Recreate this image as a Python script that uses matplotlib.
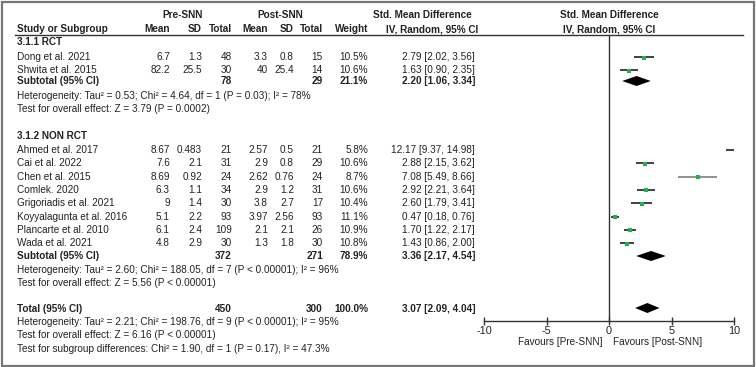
import matplotlib
matplotlib.use("Agg")
import matplotlib.pyplot as plt
from matplotlib.patches import Rectangle

plt.rcParams['font.family'] = ['Liberation Sans', 'DejaVu Sans']

# ---------------- data ----------------
rct_names = ["Dong et al. 2021", "Shwita et al. 2015"]
rct_pre_mean = ["6.7", "82.2"]
rct_pre_sd = ["1.3", "25.5"]
rct_pre_n = ["48", "30"]
rct_post_mean = ["3.3", "40"]
rct_post_sd = ["0.8", "25.4"]
rct_post_n = ["15", "14"]
rct_weight = ["10.5%", "10.6%"]
rct_smd = [2.79, 1.63]
rct_lo = [2.02, 0.90]
rct_hi = [3.56, 2.35]

non_names = ["Ahmed et al. 2017", "Cai et al. 2022", "Chen et al. 2015", "Comlek. 2020",
             "Grigoriadis et al. 2021", "Koyyalagunta et al. 2016", "Plancarte et al. 2010",
             "Wada et al. 2021"]
non_pre_mean = ["8.67", "7.6", "8.69", "6.3", "9", "5.1", "6.1", "4.8"]
non_pre_sd = ["0.483", "2.1", "0.92", "1.1", "1.4", "2.2", "2.4", "2.9"]
non_pre_n = ["21", "31", "24", "34", "30", "93", "109", "30"]
non_post_mean = ["2.57", "2.9", "2.62", "2.9", "3.8", "3.97", "2.1", "1.3"]
non_post_sd = ["0.5", "0.8", "0.76", "1.2", "2.7", "2.56", "2.1", "1.8"]
non_post_n = ["21", "29", "24", "31", "17", "93", "26", "30"]
non_weight = ["5.8%", "10.6%", "8.7%", "10.6%", "10.4%", "11.1%", "10.9%", "10.8%"]
non_smd = [12.17, 2.88, 7.08, 2.92, 2.60, 0.47, 1.70, 1.43]
non_lo = [9.37, 2.15, 5.49, 2.21, 1.79, 0.18, 1.22, 0.86]
non_hi = [14.98, 3.62, 8.66, 3.64, 3.41, 0.76, 2.17, 2.00]

sub_labels = ["Subtotal (95% CI)", "Subtotal (95% CI)"]
sub_pre_n = ["78", "372"]
sub_post_n = ["29", "271"]
sub_weight = ["21.1%", "78.9%"]
sub_smd = [2.20, 3.36]
sub_lo = [1.06, 2.17]
sub_hi = [3.34, 4.54]

tot_pre_n = "450"
tot_post_n = "300"
tot_weight = "100.0%"
tot_smd = 3.07
tot_lo = 2.09
tot_hi = 4.04

rct_stats = ["Heterogeneity: Tau\u00b2 = 0.53; Chi\u00b2 = 4.64, df = 1 (P = 0.03); I\u00b2 = 78%",
             "Test for overall effect: Z = 3.79 (P = 0.0002)"]
non_stats = ["Heterogeneity: Tau\u00b2 = 2.60; Chi\u00b2 = 188.05, df = 7 (P < 0.00001); I\u00b2 = 96%",
             "Test for overall effect: Z = 5.56 (P < 0.00001)"]
tot_stats = ["Heterogeneity: Tau\u00b2 = 2.21; Chi\u00b2 = 198.76, df = 9 (P < 0.00001); I\u00b2 = 95%",
             "Test for overall effect: Z = 6.16 (P < 0.00001)",
             "Test for subgroup differences: Chi\u00b2 = 1.90, df = 1 (P = 0.17), I\u00b2 = 47.3%"]

xticks = [-10, -5, 0, 5, 10]

# ---------------- layout ----------------
W, H = 756, 367
FS = 7.2
TC = '#222222'
fig = plt.figure(figsize=(W / 100, H / 100), dpi=100)
ax = fig.add_axes([0, 0, 1, 1])
ax.set_xlim(0, W)
ax.set_ylim(H, 0)
ax.axis('off')

X0, X1 = 484, 734
fax = fig.add_axes([X0 / W, 0, (X1 - X0) / W, 1])
XMIN, XMAX = -10, 10
fax.set_xlim(XMIN, XMAX)
fax.set_ylim(H, 0)
fax.patch.set_alpha(0)
for s in ['left', 'right', 'top']:
    fax.spines[s].set_visible(False)
AXIS_Y = 321
fax.spines['bottom'].set_position(('data', AXIS_Y))
fax.spines['bottom'].set_color('#333333')
fax.spines['bottom'].set_linewidth(1.0)
fax.set_yticks([])
fax.set_xticks(xticks)
fax.set_xticklabels([str(t) for t in xticks])
fax.tick_params(axis='x', direction='inout', length=6, width=1.0, color='#333333',
                labelsize=FS + 0.6, labelcolor=TC, pad=0.5)

ax.add_patch(Rectangle((2, 2), 752, 364, fill=False, edgecolor='#777777', lw=1.6))

# column positions (right edges)
cL = 17
cPM, cPS, cPN = 170, 202, 232
cQM, cQS, cQN = 268, 294, 323
cW = 368
cE = 475


def txt(x, y, s, ha='left', bold=False):
    ax.text(x, y, s, ha=ha, va='center', fontsize=FS, color=TC,
            fontweight='bold' if bold else 'normal')


# headers
txt(183, 15, "Pre-SNN", 'center', True)
txt(280, 15, "Post-SNN", 'center', True)
txt(422, 15, "Std. Mean Difference", 'center', True)
txt(432, 29, "IV, Random, 95% CI", 'center', True)
txt(609, 15, "Std. Mean Difference", 'center', True)
txt(609, 29, "IV, Random, 95% CI", 'center', True)
txt(cL, 29, "Study or Subgroup", bold=True)
for x, s in [(cPM, "Mean"), (cPS, "SD"), (cPN, "Total"), (cQM, "Mean"),
             (cQS, "SD"), (cQN, "Total"), (cW, "Weight")]:
    txt(x, 29, s, 'right', True)
ax.plot([15, 743], [35, 35], color='#333333', lw=1.0)

# zero line
fax.plot([0, 0], [35, AXIS_Y], color='#333333', lw=1.0)

STEP = 13.3


def study_rows(y0, names, pm, ps, pn, qm, qs, qn, w, smd, lo, hi, colors=None):
    for i in range(len(names)):
        y = y0 + i * STEP
        txt(cL, y, names[i])
        txt(cPM, y, pm[i], 'right')
        txt(cPS, y, ps[i], 'right')
        txt(cPN, y, pn[i], 'right')
        txt(cQM, y, qm[i], 'right')
        txt(cQS, y, qs[i], 'right')
        txt(cQN, y, qn[i], 'right')
        txt(cW, y, w[i], 'right')
        txt(cE, y, f"{smd[i]:.2f} [{lo[i]:.2f}, {hi[i]:.2f}]", 'right')
        col = colors[i] if colors else '#333333'
        if lo[i] > XMAX:
            # off-scale study: arrow pointing right at the axis end
            fax.plot([XMAX - 0.8, XMAX - 0.3], [y - 2, y - 2], color='#111111', lw=1.2,
                     solid_capstyle='butt', clip_on=False)
            fax.plot(XMAX - 0.2, y - 2, '>', color='#111111', markersize=5.5, mew=0,
                     clip_on=False)
        else:
            fax.plot([lo[i], hi[i]], [y, y], color=col, lw=1.3, solid_capstyle='butt')
            fax.plot(smd[i], y + 0.5, 's', color='#1fb24b', markersize=3.0, mew=0)


def diamond(y, m, lo, hi):
    fax.fill([lo, m, hi, m], [y, y - 5, y, y + 5], color='black', lw=0)


# RCT subgroup
txt(cL, 42, "3.1.1 RCT", bold=True)
study_rows(57, rct_names, rct_pre_mean, rct_pre_sd, rct_pre_n, rct_post_mean,
           rct_post_sd, rct_post_n, rct_weight, rct_smd, rct_lo, rct_hi)
y = 81
txt(cL, y, sub_labels[0], bold=True)
txt(cPN, y, sub_pre_n[0], 'right', True)
txt(cQN, y, sub_post_n[0], 'right', True)
txt(cW, y, sub_weight[0], 'right', True)
txt(cE, y, f"{sub_smd[0]:.2f} [{sub_lo[0]:.2f}, {sub_hi[0]:.2f}]", 'right', True)
diamond(y, sub_smd[0], sub_lo[0], sub_hi[0])
txt(cL, 96, rct_stats[0])
txt(cL, 109.5, rct_stats[1])

# NON RCT subgroup
txt(cL, 136, "3.1.2 NON RCT", bold=True)
non_colors = ['#333333', '#333333', '#888888', '#333333', '#333333', '#333333', '#333333', '#333333']
study_rows(150, non_names, non_pre_mean, non_pre_sd, non_pre_n, non_post_mean,
           non_post_sd, non_post_n, non_weight, non_smd, non_lo, non_hi, non_colors)
y = 256
txt(cL, y, sub_labels[1], bold=True)
txt(cPN, y, sub_pre_n[1], 'right', True)
txt(cQN, y, sub_post_n[1], 'right', True)
txt(cW, y, sub_weight[1], 'right', True)
txt(cE, y, f"{sub_smd[1]:.2f} [{sub_lo[1]:.2f}, {sub_hi[1]:.2f}]", 'right', True)
diamond(y, sub_smd[1], sub_lo[1], sub_hi[1])
txt(cL, 270, non_stats[0])
txt(cL, 283.5, non_stats[1])

# Total
y = 309
txt(cL, y, "Total (95% CI)", bold=True)
txt(cPN, y, tot_pre_n, 'right', True)
txt(cQN, y, tot_post_n, 'right', True)
txt(cW, y, tot_weight, 'right', True)
txt(cE, y, f"{tot_smd:.2f} [{tot_lo:.2f}, {tot_hi:.2f}]", 'right', True)
diamond(y - 1, tot_smd, tot_lo, tot_hi)
for i, s in enumerate(tot_stats):
    txt(cL, 322 + i * STEP, s)

# favours
txt(603, 342, "Favours [Pre-SNN]", 'right')
txt(613, 342, "Favours [Post-SNN]", 'left')

fig.savefig("out.png", dpi=100)
